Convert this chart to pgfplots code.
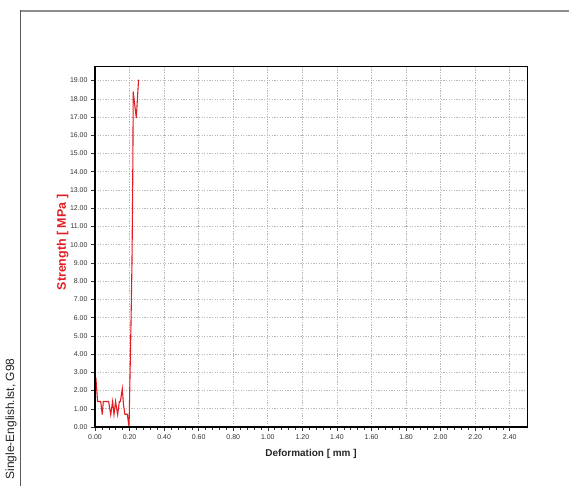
\documentclass[border=0pt]{standalone}
\usepackage{pgfplots}
\pgfplotsset{compat=1.18}
\usepackage{fontspec}
\setmainfont{Liberation Sans}
\definecolor{curvered}{RGB}{226,30,36}
\definecolor{gridgray}{RGB}{185,185,185}
\definecolor{framegray}{RGB}{140,140,140}

\begin{document}
\begin{tikzpicture}
  % page = 569 x 486 bp, axis box origin at image (95,427)
  \path[use as bounding box] (-95bp,-59bp) rectangle (474bp,427bp);
  \draw[framegray, line width=1.6bp] (-75bp,416bp) -- (474bp,416bp);
  \draw[black!65, line width=0.8bp] (-75bp,416.8bp) -- (-75bp,-59bp);
  \node[rotate=90, font=\fontsize{12}{14}\selectfont, text=black!85]
    at (-84bp,8bp) {Single-English.lst, G98};

  \begin{axis}[
    scale only axis,
    width=432bp, height=361bp,
    xmin=0, xmax=2.5,
    ymin=0, ymax=19.8,
    xtick={0,0.2,0.4,0.6,0.8,1.0,1.2,1.4,1.6,1.8,2.0,2.2,2.4},
    ytick={0,1,...,19},
    minor x tick num=4,
    xtick pos=bottom, ytick pos=left,
    tick align=outside,
    major tick length=4bp,
    minor tick length=2.5bp,
    xmajorgrids, ymajorgrids,
    grid style={gridgray, dash pattern=on 1.3bp off 1.3bp, line width=0.6bp},
    axis line style={black, line width=0.9bp},
    tick style={black!80, line width=0.5bp},
    /pgf/number format/assume math mode=true,
    ticklabel style={font=\fontsize{7}{8}\selectfont, text=black!80},
    xticklabel={\pgfmathprintnumber[fixed,fixed zerofill,precision=2]{\tick}},
    yticklabel={\pgfmathprintnumber[fixed,fixed zerofill,precision=2]{\tick}},
    xlabel={Deformation [ mm ]},
    xlabel style={font=\bfseries\fontsize{10}{12}\selectfont, text=black!85,
      at={(axis description cs:0.5,-0.075)}, anchor=center},
    ylabel={Strength [ MPa ]},
    ylabel style={font=\bfseries\fontsize{12.5}{14}\selectfont, text=curvered,
      at={(axis description cs:-0.075,0.511)}, anchor=center},
    clip=false,
  ]
    \addplot[curvered, line width=1.1bp] coordinates {
      (0.000,1.20)
      (0.005,2.72)
      (0.015,1.40)
      (0.033,1.40)
      (0.042,0.68)
      (0.048,1.40)
      (0.079,1.40)
      (0.091,0.68)
      (0.102,1.40)
      (0.110,0.68)
      (0.119,1.40)
      (0.131,0.68)
      (0.141,1.40)
      (0.147,1.40)
      (0.158,2.10)
      (0.165,1.20)
      (0.173,0.70)
      (0.187,0.70)
      (0.197,0.00)
      (0.203,3.00)
      (0.208,5.50)
      (0.214,9.00)
      (0.218,13.0)
      (0.220,16.0)
      (0.221,18.4)
      (0.239,16.95)
      (0.252,19.05)
    };
    \draw[black, line width=2bp] (rel axis cs:0,1) -- (rel axis cs:0,0) -- (rel axis cs:1,0);
  \end{axis}
\end{tikzpicture}
\end{document}
